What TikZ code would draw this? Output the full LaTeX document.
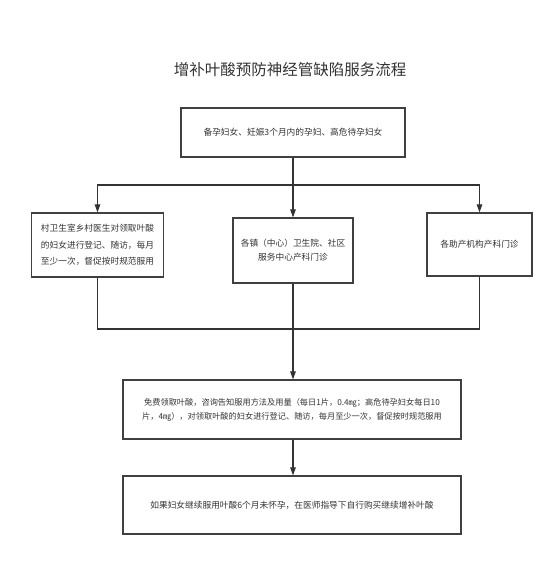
\documentclass[tikz,border=0pt]{standalone}
\usepackage{fontspec}
\setmainfont{Noto Sans CJK SC}
\usetikzlibrary{arrows.meta}
\begin{document}
\begin{tikzpicture}[x=1pt,y=1pt,
  box/.style={draw=black!75,line width=1.2pt,rectangle,inner sep=0pt,align=center,text=black!80},
  conn/.style={draw=black!80,line width=1.1pt},
  arr/.style={conn,-{Triangle[length=8pt,width=5.5pt]}}]
\useasboundingbox (0,0) rectangle (554,-564);
\node[text=black!80,font=\fontsize{15.5}{18}\selectfont] (title) at (290,-70) {增补叶酸预防神经管缺陷服务流程};
\node[box,minimum width=224pt,minimum height=49pt,font=\fontsize{8.7}{14}\selectfont] (b1) at (293,-132.5) {备孕妇女、妊娠3个月内的孕妇、高危待孕妇女};
\node[box,minimum width=132pt,minimum height=64pt,font=\fontsize{8.7}{16.5}\selectfont] (left) at (97.5,-245) {村卫生室乡村医生对领取叶酸\\的妇女进行登记、随访，每月\\至少一次，督促按时规范服用};
\node[box,minimum width=120pt,minimum height=65pt,font=\fontsize{8.7}{14}\selectfont] (mid) at (293,-250.5) {各镇（中心）卫生院、社区\\服务中心产科门诊};
\node[box,minimum width=105pt,minimum height=63pt,font=\fontsize{8.7}{14}\selectfont] (right) at (479.5,-244.5) {各助产机构产科门诊};
\node[box,minimum width=338pt,minimum height=59pt,font=\fontsize{8.2}{14}\selectfont] (b4) at (292,-409.5) {免费领取叶酸，咨询告知服用方法及用量（每日1片，0.4㎎；高危待孕妇女每日10\\片，4㎎），对领取叶酸的妇女进行登记、随访，每月至少一次，督促按时规范服用};
\node[box,minimum width=338pt,minimum height=58pt,font=\fontsize{8.7}{14}\selectfont] (b5) at (292,-505) {如果妇女继续服用叶酸6个月未怀孕，在医师指导下自行购买继续增补叶酸};
\coordinate (j1) at (293,-185);
\coordinate (j2) at (293,-329);
\draw[conn] (b1.south) -- (j1);
\draw[arr] (j1) -| (left.north);
\draw[arr] (j1) -- (mid.north);
\draw[arr] (j1) -| (right.north);
\draw[conn] (left.south) |- (j2);
\draw[conn] (right.south) |- (j2);
\draw[conn] (mid.south) -- (j2);
\draw[arr] (j2) -- (j2 |- b4.north);
\draw[arr] (b4.south -| j2) -- (b5.north -| j2);
\end{tikzpicture}
\end{document}
